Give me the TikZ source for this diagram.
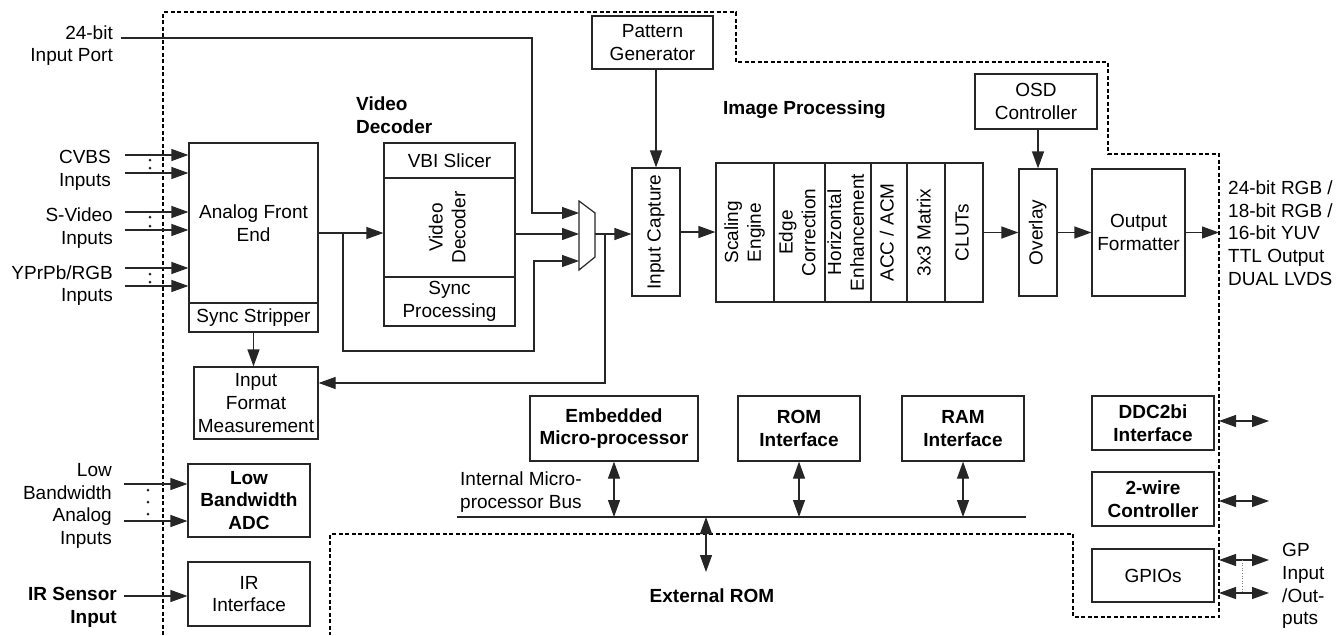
\documentclass[tikz,border=0pt]{standalone}
\usepackage{fontspec}
\setmainfont{Liberation Sans}
\usepackage{graphicx}
\usetikzlibrary{arrows.meta}
\newcommand{\dfont}{\fontsize{19}{22.7}\selectfont}
\newcommand{\rtxt}[1]{\rotatebox{90}{\begin{tabular}{@{}c@{}}#1\end{tabular}}}
\begin{document}
\begin{tikzpicture}[x=1pt,y=-1pt,
  every node/.style={font=\dfont, inner sep=0pt},
  ln/.style={draw=black!85, line width=1.2pt},
  box/.style={ln, align=center},
  bbox/.style={box, font=\dfont\bfseries},
  lbl/.style={align=right, anchor=east},
  llbl/.style={align=left, anchor=west},
  arr/.style={ln, -{Triangle[length=17pt,width=12pt]}},
  darr/.style={ln, {Triangle[length=17pt,width=12pt]}-{Triangle[length=17pt,width=12pt]}},
  bnd/.style={draw=black, line width=1.3pt, dash pattern=on 4pt off 2.5pt},
  dotm/.style={fill=black!85}]
\fill[white] (0,0) rectangle (1337,635);
\useasboundingbox (0,0) rectangle (1337,635);

% chip boundary
\draw[bnd] (163,635) -- (163,12) -- (736,12) -- (736,62) -- (1108,62) -- (1108,154)
  -- (1219,154) -- (1219,617) -- (1073,617) -- (1073,534) -- (330,534) -- (330,635);

% left labels
\node[lbl] (in24) at (113,45.5) {24-bit\\Input Port};
\node[lbl] (cvbs) at (111,170.5) {CVBS\\Inputs};
\node[lbl] (svid) at (113,228) {S-Video\\Inputs};
\node[lbl] (ypr) at (113,285.5) {YPrPb/RGB\\Inputs};
\node[lbl] (lbin) at (112,506) {Low\\Bandwidth\\Analog\\Inputs};
\node[lbl, font=\dfont\bfseries] (irs) at (117,607) {IR Sensor\\Input};

% analog front end
\node[box, minimum width=129pt, minimum height=160pt] (afe) at (253.5,223) {Analog Front\\End};
\node[box, minimum width=129pt, minimum height=29pt] (ss) at (253.5,317.5) {Sync Stripper};
\node[box, minimum width=124pt, minimum height=72pt] (ifm) at (256,403) {Input\\Format\\Measurement};
\node[bbox, minimum width=122pt, minimum height=73pt] (lbadc) at (249,500.5) {Low\\Bandwidth\\ADC};
\node[box, minimum width=122pt, minimum height=64pt] (irif) at (249,594) {IR\\Interface};

% video decoder
\node[llbl, font=\dfont\bfseries] (vdlbl) at (356,115) {Video\\Decoder};
\node[box, minimum width=131pt, minimum height=35pt] (vbi) at (449.5,160.5) {VBI Slicer};
\node[box, minimum width=131pt, minimum height=99pt] (vdec) at (449.5,227.5) {\rtxt{Video\\Decoder}};
\node[box, minimum width=131pt, minimum height=49pt] (syncp) at (449.5,301.5) {Sync\\Processing};

% mux
\draw[ln] (579,201) -- (595,213) -- (595,257) -- (579,270) -- cycle;
\coordinate (muxa) at (579,213);
\coordinate (muxb) at (579,234);
\coordinate (muxc) at (579,261);
\coordinate (muxo) at (595,234);

% pattern generator, input capture
\node[box, minimum width=121pt, minimum height=53pt] (pg) at (652.5,42.5) {Pattern\\Generator};
\node[box, minimum width=48pt, minimum height=128pt] (ic) at (656,232) {\rtxt{Input Capture}};

% image processing
\node[llbl, font=\dfont\bfseries] (iplbl) at (723,110) {Image Processing};
\node[box, minimum width=58pt, minimum height=139pt] (ip1) at (745,232.5) {\rtxt{Scaling\\Engine}};
\node[box, minimum width=51pt, minimum height=139pt] (ip2) at (799.5,232.5) {\rtxt{Edge\\Correction}};
\node[box, minimum width=46pt, minimum height=139pt] (ip3) at (848,232.5) {\rtxt{Horizontal\\Enhancement}};
\node[box, minimum width=36pt, minimum height=139pt] (ip4) at (889,232.5) {\rtxt{ACC / ACM}};
\node[box, minimum width=38pt, minimum height=139pt] (ip5) at (926,232.5) {\rtxt{3x3 Matrix}};
\node[box, minimum width=38pt, minimum height=139pt] (ip6) at (964,232.5) {\rtxt{CLUTs}};

\node[box, minimum width=122pt, minimum height=55pt] (osd) at (1036,101.5) {OSD\\Controller};
\node[box, minimum width=38pt, minimum height=127pt] (ovl) at (1038,232.5) {\rtxt{Overlay}};
\node[box, minimum width=93pt, minimum height=127pt] (of) at (1138.5,232.5) {Output\\Formatter};
\node[llbl] (outlbl) at (1228,233) {24-bit RGB /\\18-bit RGB /\\16-bit YUV\\TTL Output\\DUAL LVDS};

% micro-processor section
\node[bbox, minimum width=168pt, minimum height=65pt] (emb) at (614,428.5) {Embedded\\Micro-processor};
\node[bbox, minimum width=122pt, minimum height=65pt] (rom) at (799,428.5) {ROM\\Interface};
\node[bbox, minimum width=122pt, minimum height=65pt] (ram) at (963,428.5) {RAM\\Interface};
\node[llbl] (buslbl) at (460,492) {Internal Micro-\\processor Bus};
\node[font=\dfont\bfseries] (extrom) at (712,596) {External ROM};

% right column
\node[bbox, minimum width=122pt, minimum height=54pt] (ddc) at (1153,423) {DDC2bi\\Interface};
\node[bbox, minimum width=122pt, minimum height=54pt] (twc) at (1153,499) {2-wire\\Controller};
\node[box, minimum width=122pt, minimum height=53pt] (gpio) at (1153,575.5) {GPIOs};
\node[llbl] (gplbl) at (1282,586) {GP\\Input\\/Out-\\puts};

% ---- connectors ----
\coordinate (in24s) at (121,38);
\draw[arr] (in24s) -- (532,38) -- (532,213) -- (muxa);

\coordinate (cv1) at (125,155);
\coordinate (cv2) at (125,173);
\coordinate (sv1) at (125,212);
\coordinate (sv2) at (125,230);
\coordinate (yp1) at (125,268);
\coordinate (yp2) at (125,286);
\foreach \c in {cv1,cv2,sv1,sv2,yp1,yp2} \draw[arr] (\c) -- (\c -| afe.west);
\foreach \y in {160,168,217,226,274,282} \fill[dotm] (150,\y) circle (1.5pt);

\coordinate (lb1) at (124,484);
\coordinate (lb2) at (124,521);
\draw[arr] (lb1) -- (lb1 -| lbadc.west);
\draw[arr] (lb2) -- (lb2 -| lbadc.west);
\foreach \y in {490,502,514} \fill[dotm] (148,\y) circle (1.5pt);

\coordinate (irs1) at (124,596);
\draw[arr] (irs1) -- (irs1 -| irif.west);

\coordinate (br1) at (343,233);
\draw[arr] (afe.east |- br1) -- (vdec.west |- br1);
\draw[arr] (br1) -- (343,351) -- (534,351) -- (534,261) -- (muxc);
\draw[arr] (vdec.east |- muxb) -- (muxb);

\coordinate (br2) at (605,234);
\coordinate (ifmin) at ([yshift=20pt]ifm.east);
\draw[arr] (muxo) -- (ic.west |- muxo);
\draw[arr] (br2) -- (br2 |- ifmin) -- (ifmin);
\draw[arr] (ss.south) -- (ss.south |- ifm.north);

\draw[arr] (pg.south -| ic.north) -- (ic.north);
\draw[arr] (ic.east) -- (ic.east -| ip1.west);
\draw[arr] (ip6.east) -- (ip6.east -| ovl.west);
\draw[arr] (osd.south -| ovl.north) -- (ovl.north);
\draw[arr] (ovl.east) -- (ovl.east -| of.west);
\coordinate (outc) at (1219,232.5);
\draw[arr] (of.east) -- (outc);

\coordinate (busl) at (457,517);
\coordinate (busr) at (1026,517);
\draw[ln] (busl) -- (busr);
\draw[darr] (emb.south) -- (emb.south |- busl);
\draw[darr] (rom.south) -- (rom.south |- busl);
\draw[darr] (ram.south) -- (ram.south |- busl);
\coordinate (extb) at (706,517);
\coordinate (extt) at (706,572);
\draw[darr] (extb) -- (extt);

\coordinate (ddcA) at (1219,421);
\coordinate (ddcB) at (1269,421);
\draw[darr] (ddcA) -- (ddcB);
\coordinate (twcA) at (1219,501);
\coordinate (twcB) at (1269,501);
\draw[darr] (twcA) -- (twcB);
\coordinate (gpA) at (1219,560);
\coordinate (gpB) at (1269,560);
\coordinate (gpC) at (1219,593);
\coordinate (gpD) at (1269,593);
\draw[darr] (gpA) -- (gpB);
\draw[darr] (gpC) -- (gpD);
\draw[gray, line width=0.6pt, dotted] (1242,560) -- (1242,593);
\end{tikzpicture}
\end{document}
